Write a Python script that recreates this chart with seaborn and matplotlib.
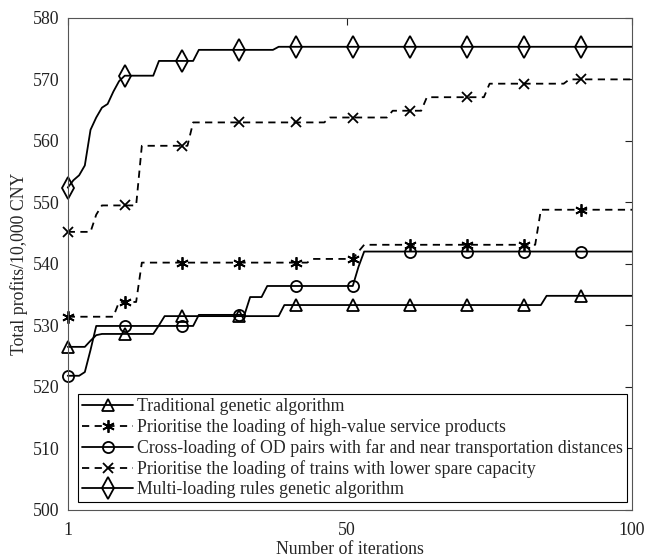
import numpy as np
import pandas as pd
import matplotlib
matplotlib.use("Agg")
import matplotlib.pyplot as plt
import seaborn as sns

sns.set_style("white")
plt.rcParams['font.family'] = ['Liberation Serif', 'DejaVu Serif']
plt.rcParams['mathtext.fontset'] = 'stix'

iterations = np.arange(1, 101)

ga_levels = [526.5, 527.5, 528.4, 528.6, 530.0, 531.5, 533.3, 534.8]
ga_runs = [4, 1, 1, 10, 1, 21, 46, 16]

hv_levels = [531.4, 533.8, 540.2, 540.8, 542.0, 543.1, 548.8]
hv_runs = [9, 4, 30, 8, 1, 31, 17]

od_levels = [521.8, 522.4, 526.0, 529.9, 531.7, 534.6, 536.4, 539.5, 542.0]
od_runs = [3, 1, 1, 18, 9, 3, 16, 1, 48]

cap_levels = [545.2, 548.0, 549.5, 559.2, 563.0, 563.8, 564.9, 567.1, 569.3, 570.0]
cap_runs = [5, 1, 7, 9, 24, 11, 6, 11, 14, 12]

multi_levels = [552.4, 553.6, 554.4, 556.0, 561.8, 563.8, 565.4, 566.0, 568.0, 569.7,
                570.6, 573.0, 574.8, 575.3]
multi_runs = [1, 1, 1, 1, 1, 1, 1, 1, 1, 1, 6, 7, 14, 63]

labels = [
    "Traditional genetic algorithm",
    "Prioritise the loading of high-value service products",
    "Cross-loading of OD pairs with far and near transportation distances",
    "Prioritise the loading of trains with lower spare capacity",
    "Multi-loading rules genetic algorithm",
]

df = pd.DataFrame({
    'iteration': iterations,
    'ga': np.repeat(ga_levels, ga_runs),
    'hv': np.repeat(hv_levels, hv_runs),
    'od': np.repeat(od_levels, od_runs),
    'cap': np.repeat(cap_levels, cap_runs),
    'multi': np.repeat(multi_levels, multi_runs),
})

styles = [
    ('ga', '-', '^', 9),
    ('hv', (0, (4, 3)), (6, 2, 0), 9),
    ('od', '-', 'o', 8),
    ('cap', (0, (4, 3)), 'x', 7),
    ('multi', '-', 'd', 11),
]

FS = 12.8

fig = plt.figure(figsize=(6.45, 5.59), dpi=100)
ax = fig.add_axes([0.105, 0.088, 0.875, 0.88])

for (col, ls, mk, ms), label in zip(styles, labels):
    sns.lineplot(data=df, x='iteration', y=col, ax=ax, color='black',
                 linewidth=1.3, linestyle=ls, marker=mk, markersize=ms,
                 markevery=10, markerfacecolor='none', markeredgecolor='black',
                 markeredgewidth=1.3, label=label, clip_on=False)

ax.set_xlim(1, 100)
ax.set_ylim(500, 580)
ax.set_xticks([1, 50, 100])
ax.set_yticks(range(500, 581, 10))
ax.tick_params(direction='in', top=True, right=True, length=5, pad=6,
               labelsize=FS, colors='#222222')
ax.tick_params(axis='x', pad=9)
for sp in ax.spines.values():
    sp.set_color('#555555')
    sp.set_linewidth(0.8)

ax.set_xlabel("Number of iterations", fontsize=FS, labelpad=1)
ax.set_ylabel("Total profits/10,000 CNY", fontsize=FS, labelpad=3)

leg = ax.legend(loc='lower left', bbox_to_anchor=(0.018, 0.016), fontsize=FS,
                handlelength=2.9, handletextpad=0.2, labelspacing=0.17,
                borderpad=0.22, borderaxespad=0, fancybox=False, framealpha=1,
                edgecolor='black')
leg.get_frame().set_linewidth(0.8)

fig.savefig("out.png", dpi=100)
